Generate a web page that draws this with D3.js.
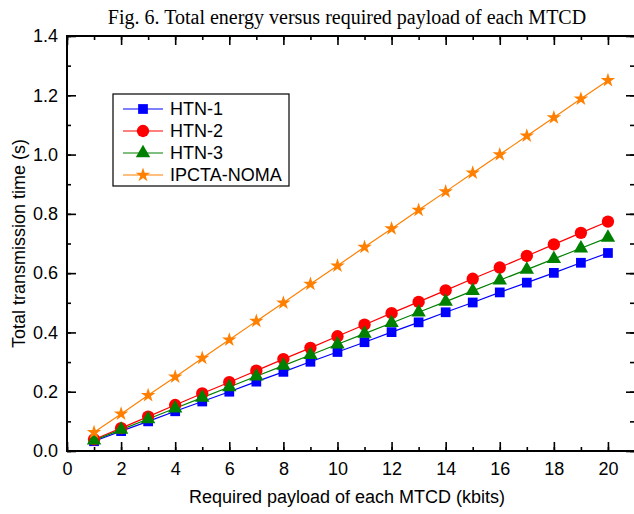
<!DOCTYPE html>
<html lang="en">
<head>
    <meta charset="UTF-8">
    <title>Fig. 6</title>
    <style>
        body {
            margin: 0;
            background: #fff;
        }
        #chart-wrapper {
            width: 634px;
            height: 514px;
        }
        .axis text {
            font-family: "Liberation Sans", Arial, sans-serif;
            font-size: 18px;
            fill: #000;
        }
    </style>
</head>

<body>
    <div id="chart-wrapper"></div>

    <script src="https://d3js.org/d3.v7.min.js"></script>
    <script>
        // payload in kbits
        const payload = [1, 2, 3, 4, 5, 6, 7, 8, 9, 10, 11, 12, 13, 14, 15, 16, 17, 18, 19, 20]

        const htn1 = [0.033, 0.067, 0.100, 0.134, 0.167, 0.200, 0.234, 0.267, 0.301, 0.334,
            0.367, 0.401, 0.434, 0.468, 0.501, 0.535, 0.568, 0.601, 0.635, 0.668]
        const htn2 = [0.039, 0.077, 0.116, 0.155, 0.194, 0.232, 0.271, 0.310, 0.348, 0.387,
            0.426, 0.465, 0.503, 0.542, 0.581, 0.619, 0.658, 0.697, 0.736, 0.774]
        const htn3 = [0.036, 0.072, 0.108, 0.144, 0.180, 0.216, 0.252, 0.288, 0.324, 0.360,
            0.396, 0.432, 0.468, 0.504, 0.540, 0.576, 0.612, 0.648, 0.684, 0.720]
        const ipcta = [0.063, 0.125, 0.188, 0.250, 0.313, 0.375, 0.438, 0.500, 0.563, 0.625,
            0.688, 0.750, 0.813, 0.875, 0.938, 1.000, 1.063, 1.125, 1.188, 1.250]

        const xMajorTicks = [0, 2, 4, 6, 8, 10, 12, 14, 16, 18, 20]
        const yMajorTicks = [0, 0.2, 0.4, 0.6, 0.8, 1.0, 1.2, 1.4]

        const series = [
            { name: 'HTN-1', values: htn1, color: '#0000ff', symbol: d3.symbolSquare, size: 95 },
            { name: 'HTN-2', values: htn2, color: '#ff0000', symbol: d3.symbolCircle, size: 120 },
            { name: 'HTN-3', values: htn3, color: '#008000', symbol: d3.symbolTriangle, size: 90 },
            { name: 'IPCTA-NOMA', values: ipcta, color: '#ff8000', symbol: d3.symbolStar, size: 65 }
        ]

        const width = 634
        const height = 514
        const margin = { top: 36, right: -1, bottom: 63, left: 67 }

        const svg = d3.select('#chart-wrapper')
            .append('svg')
            .attr('width', width)
            .attr('height', height)

        const xScale = d3.scaleLinear()
            .domain([0, 21])
            .range([margin.left, width - margin.right])
        const yScale = d3.scaleLinear()
            .domain([0, 1.4])
            .range([height - margin.bottom, margin.top])

        // title
        svg.append('text')
            .attr('x', 347)
            .attr('y', 24)
            .attr('text-anchor', 'middle')
            .style('font-family', '"Liberation Serif", "Times New Roman", serif')
            .style('font-size', '20px')
            .text('Fig. 6. Total energy versus required payload of each MTCD')

        drawAxes()
        drawSeries()
        drawLegend()

        function drawAxes() {
            const x0 = xScale.range()[0], x1 = xScale.range()[1]
            const y0 = yScale.range()[0], y1 = yScale.range()[1]
            const xMinor = d3.range(0, 22, 1)
            const yMinor = d3.range(0, 15, 1).map(d => d / 10)

            const addAxis = (axis, transform, cls) => svg.append('g')
                .attr('class', 'axis ' + cls)
                .attr('transform', transform)
                .call(axis)
                .call(g => g.select('.domain').remove())
                .call(g => g.selectAll('line').attr('stroke', '#000').attr('stroke-width', 1.6))

            // bottom
            addAxis(d3.axisBottom(xScale).tickValues(xMinor).tickSize(-4).tickFormat(''), `translate(0,${y0})`, 'xb-minor')
            addAxis(d3.axisBottom(xScale).tickValues(xMajorTicks).tickSize(-9).tickPadding(11).tickFormat(d3.format('d')), `translate(0,${y0})`, 'xb')
            // top
            addAxis(d3.axisTop(xScale).tickValues(xMinor).tickSize(-4).tickFormat(''), `translate(0,${y1})`, 'xt-minor')
            addAxis(d3.axisTop(xScale).tickValues(xMajorTicks).tickSize(-9).tickFormat(''), `translate(0,${y1})`, 'xt')
            // left
            addAxis(d3.axisLeft(yScale).tickValues(yMinor).tickSize(-4).tickFormat(''), `translate(${x0},0)`, 'yl-minor')
            addAxis(d3.axisLeft(yScale).tickValues(yMajorTicks).tickSize(-9).tickPadding(9).tickFormat(d3.format('.1f')), `translate(${x0},0)`, 'yl')
            // right
            addAxis(d3.axisRight(yScale).tickValues(yMinor).tickSize(-4).tickFormat(''), `translate(${x1 - 1},0)`, 'yr-minor')
            addAxis(d3.axisRight(yScale).tickValues(yMajorTicks).tickSize(-8).tickFormat(''), `translate(${x1 - 1},0)`, 'yr')

            svg.append('rect')
                .attr('x', x0)
                .attr('y', y1)
                .attr('width', x1 - x0)
                .attr('height', y0 - y1)
                .attr('fill', 'none')
                .attr('stroke', '#000')
                .attr('stroke-width', 2)

            svg.append('text')
                .attr('x', 347)
                .attr('y', 503)
                .attr('text-anchor', 'middle')
                .style('font-family', '"Liberation Sans", Arial, sans-serif')
                .style('font-size', '18px')
                .text('Required payload of each MTCD (kbits)')

            svg.append('text')
                .attr('transform', `translate(25,${(y0 + y1) / 2}) rotate(-90)`)
                .attr('text-anchor', 'middle')
                .style('font-family', '"Liberation Sans", Arial, sans-serif')
                .style('font-size', '18px')
                .text('Total transmission time (s)')
        }

        function drawSeries() {
            const line = d3.line()
                .x((d, i) => xScale(payload[i]))
                .y(d => yScale(d))

            const g = svg.append('g').attr('class', 'series')
            series.forEach(s => {
                g.append('path')
                    .datum(s.values)
                    .attr('fill', 'none')
                    .attr('stroke', s.color)
                    .attr('stroke-width', 1.2)
                    .attr('d', line)
            })
            series.forEach(s => {
                g.selectAll(null)
                    .data(s.values)
                    .join('path')
                    .attr('transform', (d, i) => `translate(${xScale(payload[i])},${yScale(d)})`)
                    .attr('d', d3.symbol().type(s.symbol).size(s.size))
                    .attr('fill', s.color)
            })
        }

        function drawLegend() {
            const lg = svg.append('g').attr('class', 'legend')
            lg.append('rect')
                .attr('x', 113)
                .attr('y', 94)
                .attr('width', 176)
                .attr('height', 92)
                .attr('fill', '#fff')
                .attr('stroke', '#000')
                .attr('stroke-width', 1.2)

            series.forEach((s, i) => {
                const y = 109 + i * 22
                lg.append('line')
                    .attr('x1', 123)
                    .attr('x2', 163)
                    .attr('y1', y)
                    .attr('y2', y)
                    .attr('stroke', s.color)
                    .attr('stroke-width', 1.2)
                lg.append('path')
                    .attr('transform', `translate(143,${y})`)
                    .attr('d', d3.symbol().type(s.symbol).size(s.size))
                    .attr('fill', s.color)
                lg.append('text')
                    .attr('x', 170)
                    .attr('y', y)
                    .attr('dy', '0.36em')
                    .style('font-family', '"Liberation Sans", Arial, sans-serif')
                    .style('font-size', '18px')
                    .text(s.name)
            })
        }
    </script>
</body>
</html>
